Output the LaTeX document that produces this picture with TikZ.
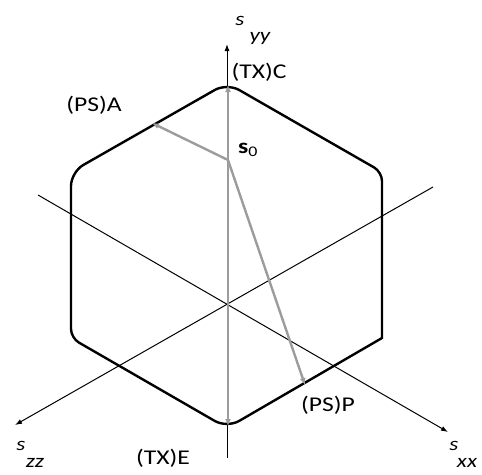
\documentclass[tikz,border=0pt]{standalone}
\usepackage{fontspec}
\setmainfont{Carlito}[FakeStretch=1.22]
\usetikzlibrary{arrows.meta}
\definecolor{arrgray}{HTML}{9C9C9C}
\tikzset{
  axisline/.style={draw=black, line width=1pt, -{Latex[length=7pt,width=5pt]}},
  hexline/.style={draw=black, line width=2.4pt},
  grayarrow/.style={draw=arrgray, line width=2.4pt, -{Latex[length=7pt,width=6pt]}},
  lbl/.style={inner sep=0pt, font=\fontsize{21}{21}\selectfont},
  axlbl/.style={inner sep=0pt, font=\fontsize{19}{19}\selectfont\itshape},
}
\begin{document}
\begin{tikzpicture}[x=1pt,y=-1pt]
\useasboundingbox (0,0) rectangle (482,474);
% axis coordinates
\coordinate (O) at (227,303);
\coordinate (ybot) at (227,458);
\coordinate (ytop) at (227,44);
\coordinate (xxtail) at (38,195);
\coordinate (xxtip) at (448,432);
\coordinate (zztail) at (433,187);
\coordinate (zztip) at (15,425);
% gray arrow coordinates
\coordinate (s0) at (228,160);
\coordinate (A) at (152,123);
\coordinate (C) at (228,85);
\coordinate (E) at (228,426);
\coordinate (P) at (305,385);
% axes
\draw[axisline] (ybot) -- (ytop);
\draw[axisline] (xxtail) -- (xxtip);
\draw[axisline] (zztail) -- (zztip);
% hexagon
\draw[hexline] (382,255) -- (382,338) [rounded corners=14pt] -- (227,428) [rounded corners=9pt] -- (71,338) [rounded corners=14pt] -- (71,172) -- (227,83) [rounded corners=9pt] -- (382,172) [rounded corners=14pt] -- cycle;
% gray arrows
\draw[grayarrow] (s0) -- (A);
\draw[grayarrow] (s0) -- (C);
\draw[grayarrow] (s0) -- (E);
\draw[grayarrow] (s0) -- (P);
% labels
\node[lbl] (lA) at (94,105) {(PS)A};
\node[lbl] (lC) at (259,72) {(TX)C};
\node[lbl] (lP) at (328,405) {(PS)P};
\node[lbl] (lE) at (163,458) {(TX)E};
\node[lbl] (ls0) at (248,150) {\textbf{s}\textsubscript{0}};
\node[axlbl] (syy) at (240,21) {s};
\node[axlbl] (syysub) at (260,38) {yy};
\node[axlbl] (szz) at (21,446) {s};
\node[axlbl] (szzsub) at (35,463) {zz};
\node[axlbl] (sxx) at (454,446) {s};
\node[axlbl] (sxxsub) at (467,463) {xx};
\end{tikzpicture}
\end{document}
